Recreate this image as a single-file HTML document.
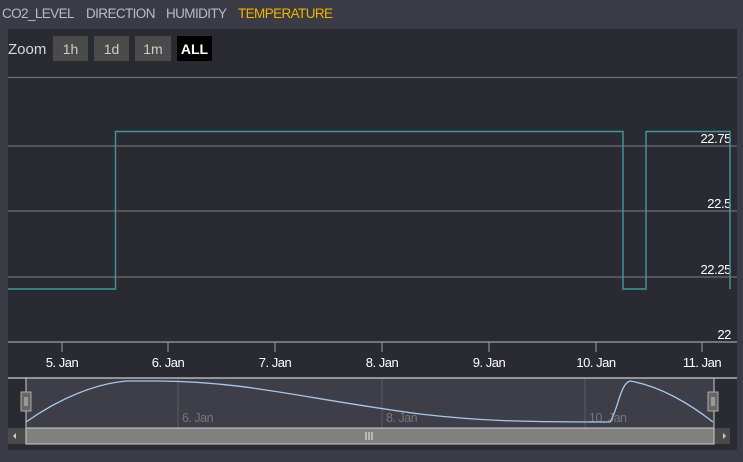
<!DOCTYPE html>
<html><head><style>
body{margin:0;background:#3a3b45;width:743px;height:457px;overflow:hidden;font-family:"Liberation Sans",sans-serif}
</style></head><body>
<svg width="743" height="457" xmlns="http://www.w3.org/2000/svg" font-family="Liberation Sans, sans-serif">
<rect width="743" height="457" fill="#3a3b45"/>
<g font-size="13.5" letter-spacing="-0.6">
<text x="2" y="18" fill="#b8bcc8">CO2_LEVEL</text>
<text x="86" y="18" fill="#b8bcc8">DIRECTION</text>
<text x="166" y="18" fill="#b8bcc8">HUMIDITY</text>
<text x="238" y="18" fill="#f0b400">TEMPERATURE</text>
</g>
<rect x="8" y="29" width="729" height="421" fill="#2a2a32"/>
<text x="8" y="54" fill="#d8d8d8" font-size="15">Zoom</text>
<rect x="53" y="36" width="35" height="25" fill="#4a4a4a"/><text x="70.5" y="54" fill="#ccc" font-size="14" text-anchor="middle">1h</text>
<rect x="94" y="36" width="35" height="25" fill="#4a4a4a"/><text x="111.5" y="54" fill="#ccc" font-size="14" text-anchor="middle">1d</text>
<rect x="135" y="36" width="36" height="25" fill="#4a4a4a"/><text x="153" y="54" fill="#ccc" font-size="14" text-anchor="middle">1m</text>
<rect x="177" y="36" width="35" height="25" fill="#000"/><text x="194.5" y="54" fill="#fff" font-size="14" font-weight="bold" text-anchor="middle">ALL</text>
<g stroke="#707070" stroke-width="1.3">
<line x1="8" y1="77.5" x2="737" y2="77.5"/>
<line x1="8" y1="146" x2="737" y2="146"/>
<line x1="8" y1="211" x2="737" y2="211"/>
<line x1="8" y1="277" x2="737" y2="277"/>
</g>
<line x1="8" y1="342" x2="737" y2="342" stroke="#a0a0a0" stroke-width="1.3"/>
<g fill="#fff" font-size="13" text-anchor="end" letter-spacing="-0.4">
<text x="731" y="143">22.75</text>
<text x="731" y="208">22.5</text>
<text x="731" y="274">22.25</text>
<text x="731" y="339">22</text>
</g>
<polyline points="8,289 115.5,289 115.5,131.5 623,131.5 623,289 646,289 646,131.5 730,131.5 730,289" fill="none" stroke="#3e9a98" stroke-width="1.4"/>
<g stroke="#a0a0a0" stroke-width="1">
<line x1="62" y1="342" x2="62" y2="352"/><line x1="168" y1="342" x2="168" y2="352"/>
<line x1="275" y1="342" x2="275" y2="352"/><line x1="382" y1="342" x2="382" y2="352"/>
<line x1="489" y1="342" x2="489" y2="352"/><line x1="596" y1="342" x2="596" y2="352"/>
<line x1="702" y1="342" x2="702" y2="352"/>
</g>
<g fill="#fff" font-size="13" text-anchor="middle" letter-spacing="-0.5">
<text x="62" y="367">5. Jan</text><text x="168" y="367">6. Jan</text><text x="275" y="367">7. Jan</text>
<text x="382" y="367">8. Jan</text><text x="489" y="367">9. Jan</text><text x="596" y="367">10. Jan</text><text x="702" y="367">11. Jan</text>
</g>
<rect x="26" y="378" width="688" height="50" fill="#3d3e48"/>
<g stroke="#5a5a62"><line x1="178" y1="378" x2="178" y2="428"/><line x1="382" y1="378" x2="382" y2="428"/><line x1="585" y1="378" x2="585" y2="428"/></g>
<g fill="#777" font-size="12.5" letter-spacing="-0.5"><text x="182" y="422">6. Jan</text><text x="386" y="422">8. Jan</text><text x="589" y="422">10. Jan</text></g>
<path d="M26,422 C60,398 95,384 126,381 L160,381 C250,382 300,398 420,414 C480,421 520,422 610,422 C618,410 620,384 630,381 C660,386 690,404 713,422" fill="none" stroke="#a8c8e8" stroke-width="1.3"/>
<line x1="8" y1="378" x2="737" y2="378" stroke="#cfcfcf" stroke-width="1.3"/>
<rect x="8" y="428" width="722" height="16" fill="#4a4a4a"/>
<rect x="26" y="428" width="688" height="16" fill="#808080" stroke="#ccc" stroke-width="1"/>
<line x1="26" y1="378" x2="26" y2="428" stroke="#ccc"/><line x1="714" y1="378" x2="714" y2="428" stroke="#ccc"/>
<rect x="21" y="392" width="10" height="19" fill="#666" stroke="#aaa"/><line x1="25" y1="397" x2="25" y2="406" stroke="#ccc"/><line x1="27" y1="397" x2="27" y2="406" stroke="#ccc"/>
<rect x="708" y="392" width="10" height="19" fill="#666" stroke="#aaa"/><line x1="712" y1="397" x2="712" y2="406" stroke="#ccc"/><line x1="714" y1="397" x2="714" y2="406" stroke="#ccc"/>
<g stroke="#eee"><line x1="366" y1="432" x2="366" y2="440"/><line x1="369" y1="432" x2="369" y2="440"/><line x1="372" y1="432" x2="372" y2="440"/></g>
<path d="M16,433 L13,436 L16,439Z" fill="#ccc"/><path d="M723,433 L726,436 L723,439Z" fill="#ccc"/>
</svg>
</body></html>
